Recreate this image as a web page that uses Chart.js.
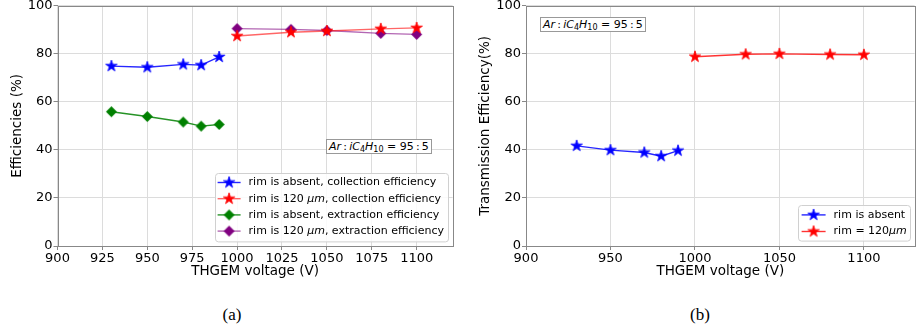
<!DOCTYPE html>
<html>
<head>
<meta charset="utf-8">
<script src="https://cdn.jsdelivr.net/npm/chart.js@4.4.0/dist/chart.umd.min.js"></script>
<style>
  html, body { margin: 0; padding: 0; background: #fff; }
  body { width: 917px; height: 335px; position: relative; overflow: hidden; font-family: 'DejaVu Sans', sans-serif; }
  canvas { display: block; }
  .panel { position: absolute; }
  .note { position: absolute; box-sizing: border-box; height: 15px; border: 1px solid #999; background: #fff;
          font-size: 11px; line-height: 13px; padding: 0 2px; white-space: nowrap; color: #000; }
  .note sub { font-size: 8px; vertical-align: -2px; line-height: 0; }
  .cap { position: absolute; font-family: 'Liberation Serif', 'DejaVu Serif', serif; font-size: 17px;
         line-height: 18px; transform: translateX(-50%); }
</style>
</head>
<body>
<div class="panel" style="left:0;top:-3px;width:460px;height:293px"><canvas id="chartA" width="460" height="293"></canvas></div>
<div class="panel" style="left:460px;top:-3px;width:462px;height:293px"><canvas id="chartB" width="462" height="293"></canvas></div>
<div class="note" style="left:326px;top:139px"><i>Ar</i>&thinsp;:&thinsp;<i>iC</i><sub>4</sub><i>H</i><sub>10</sub> = 95&thinsp;:&thinsp;5</div>
<div class="note" style="left:540px;top:17px"><i>Ar</i>&thinsp;:&thinsp;<i>iC</i><sub>4</sub><i>H</i><sub>10</sub> = 95&thinsp;:&thinsp;5</div>
<div class="cap" style="left:232px;top:306px">(a)</div>
<div class="cap" style="left:700px;top:306px">(b)</div>
<script>
/* ── THGEM efficiencies — two panels ─────────────────── */

// data
var voltAbsent  = [930, 950, 970, 980, 990];
var voltRim     = [1000, 1030, 1050, 1080, 1100];
var collAbsent  = [74.9, 74.4, 75.6, 75.3, 78.7];
var collRim     = [87.4, 89.0, 89.5, 90.4, 90.8];
var extrAbsent  = [55.9, 53.9, 51.6, 49.9, 50.6];
var extrRim     = [90.5, 90.2, 89.7, 88.5, 88.1];
var transAbsent = [41.7, 39.9, 38.9, 37.4, 39.7];
var transRim    = [78.8, 79.8, 80.0, 79.7, 79.6];

var xTicksA = [900, 925, 950, 975, 1000, 1025, 1050, 1075, 1100];
var xTicksB = [900, 950, 1000, 1050, 1100];
var yTicks  = [0, 20, 40, 60, 80, 100];

var legendA = ['rim is absent, collection efficiency', 'rim is 120 μm, collection efficiency',
               'rim is absent, extraction efficiency', 'rim is 120 μm, extraction efficiency'];
var legendB = ['rim is absent', 'rim = 120μm'];

var FONT = "'DejaVu Sans', sans-serif";

// filled markers as small canvases (Chart.js draws them as pointStyle)
function starImage(color, r) {
  var s = Math.ceil(r * 2 + 2);
  var c = document.createElement('canvas');
  c.width = s; c.height = s;
  var g = c.getContext('2d');
  g.translate(s / 2, s / 2);
  g.beginPath();
  for (var i = 0; i < 10; i++) {
    var rad = i % 2 ? r * 0.382 : r;
    var ang = -Math.PI / 2 + i * Math.PI / 5;
    g.lineTo(rad * Math.cos(ang), rad * Math.sin(ang));
  }
  g.closePath();
  g.fillStyle = color; g.fill();
  g.strokeStyle = color; g.lineWidth = 0.8; g.stroke();
  return c;
}
function diamondImage(color, r) {
  var s = Math.ceil(r * 2 + 2);
  var c = document.createElement('canvas');
  c.width = s; c.height = s;
  var g = c.getContext('2d');
  g.translate(s / 2, s / 2);
  g.beginPath();
  g.moveTo(0, -r); g.lineTo(r, 0); g.lineTo(0, r); g.lineTo(-r, 0);
  g.closePath();
  g.fillStyle = color; g.fill();
  return c;
}

function pts(xs, ys) {
  return xs.map(function (x, i) { return { x: x, y: ys[i] }; });
}

function series(label, xs, ys, line, marker) {
  return {
    label: label,
    data: pts(xs, ys),
    borderColor: line,
    borderWidth: 1.4,
    pointStyle: marker,
    pointRadius: 6,
    tension: 0
  };
}

// frame round the plot + legend box inside lower right corner
var framePlugin = {
  id: 'framePlugin',
  afterDraw: function (chart, args, opts) {
    var ctx = chart.ctx, a = chart.chartArea;
    ctx.save();
    ctx.strokeStyle = '#888';
    ctx.lineWidth = 1;
    ctx.strokeRect(Math.round(a.left) + 0.5, Math.round(a.top) + 0.5,
                   Math.round(a.right - a.left), Math.round(a.bottom - a.top));

    var sets = chart.data.datasets;
    var h = sets.length * opts.rowH + 2 * opts.pad;
    var x = a.right - opts.right - opts.width;
    var y = a.bottom - opts.bottom - h;
    ctx.beginPath();
    ctx.roundRect(Math.round(x) + 0.5, Math.round(y) + 0.5, opts.width, h, 3);
    ctx.fillStyle = 'rgba(255,255,255,0.85)';
    ctx.fill();
    ctx.strokeStyle = '#d0d0d0';
    ctx.stroke();

    sets.forEach(function (ds, i) {
      var cy = y + opts.pad + opts.rowH * (i + 0.5);
      ctx.beginPath();
      ctx.moveTo(x + opts.lineX, cy);
      ctx.lineTo(x + opts.lineX + opts.lineW, cy);
      ctx.strokeStyle = ds.borderColor;
      ctx.lineWidth = ds.borderWidth;
      ctx.stroke();
      var img = ds.pointStyle;
      ctx.drawImage(img, x + opts.lineX + opts.lineW / 2 - img.width / 2, cy - img.height / 2);

      // "μm" is set in italics
      var parts = ds.label.split('μm');
      var tx = x + opts.textX;
      ctx.fillStyle = '#000';
      ctx.textBaseline = 'middle';
      parts.forEach(function (p, k) {
        ctx.font = '11px ' + FONT;
        ctx.fillText(p, tx, cy);
        tx += ctx.measureText(p).width;
        if (k < parts.length - 1) {
          ctx.font = 'italic 11px ' + FONT;
          ctx.fillText('μm', tx, cy);
          tx += ctx.measureText('μm').width;
        }
      });
    });
    ctx.restore();
  }
};

function makeOptions(xMax, xTicks, yTitle, yWidth, yTitlePad, legend) {
  return {
    responsive: false,
    animation: false,
    layout: { padding: legend.layoutPad },
    plugins: {
      legend: { display: false },
      tooltip: { enabled: false },
      framePlugin: legend
    },
    scales: {
      x: {
        type: 'linear',
        min: 900,
        max: xMax,
        afterBuildTicks: function (s) { s.ticks = xTicks.map(function (v) { return { value: v }; }); },
        afterFit: function (s) { s.height = 44; },
        grid: { color: '#dcdcdc', tickColor: '#888', tickLength: 4 },
        border: { display: false },
        ticks: { color: '#000', padding: 1, maxRotation: 0, font: { family: FONT, size: 13 },
                 callback: function (v) { return String(v); } },
        title: { display: true, text: 'THGEM voltage (V)', color: '#000',
                 padding: { top: 0, bottom: 10.5 }, font: { family: FONT, size: 13.5 } }
      },
      y: {
        min: 0,
        max: 100,
        afterBuildTicks: function (s) { s.ticks = yTicks.map(function (v) { return { value: v }; }); },
        afterFit: function (s) { s.width = yWidth; },
        grid: { color: '#dcdcdc', tickColor: '#888', tickLength: 4 },
        border: { display: false },
        ticks: { color: '#000', padding: 1, font: { family: FONT, size: 13 },
                 callback: function (v) { return String(v); } },
        title: { display: true, text: yTitle, color: '#000',
                 padding: { top: yTitlePad, bottom: 0 }, font: { family: FONT, size: 13.5 } }
      }
    }
  };
}

document.addEventListener('DOMContentLoaded', function () {
  var starBlue = starImage('#0000ff', 6);
  var starRed = starImage('#ff0000', 6);
  var diaGreen = diamondImage('#008000', 5.5);
  var diaPurple = diamondImage('#800080', 5.5);

  // panel (a)
  new Chart(document.getElementById('chartA'), {
    type: 'line',
    data: {
      datasets: [
        series(legendA[0], voltAbsent, collAbsent, 'rgba(0,0,255,0.85)', starBlue),
        series(legendA[1], voltRim, collRim, 'rgba(255,0,0,0.6)', starRed),
        series(legendA[2], voltAbsent, extrAbsent, 'rgba(0,128,0,0.85)', diaGreen),
        series(legendA[3], voltRim, extrRim, 'rgba(128,0,128,0.6)', diaPurple)
      ]
    },
    options: makeOptions(1120, xTicksA, 'Efficiencies (%)', 57.5, 9.4, {
      layoutPad: { left: 0, right: 7, top: 8, bottom: 0 },
      width: 233, rowH: 16.2, pad: 1.8, right: 5, bottom: 5, lineX: 3, lineW: 23, textX: 34
    }),
    plugins: [framePlugin]
  });

  // panel (b)
  new Chart(document.getElementById('chartB'), {
    type: 'line',
    data: {
      datasets: [
        series(legendB[0], voltAbsent, transAbsent, 'rgba(0,0,255,0.85)', starBlue),
        series(legendB[1], voltRim, transRim, 'rgba(255,0,0,0.8)', starRed)
      ]
    },
    options: makeOptions(1130, xTicksB, 'Transmission Efficiency(%)', 66, 16.9, {
      layoutPad: { left: 0, right: 1, top: 8, bottom: 0 },
      width: 112, rowH: 16.6, pad: 1.2, right: 5, bottom: 5, lineX: 4, lineW: 24, textX: 36
    }),
    plugins: [framePlugin]
  });
});
</script>
</body>
</html>
